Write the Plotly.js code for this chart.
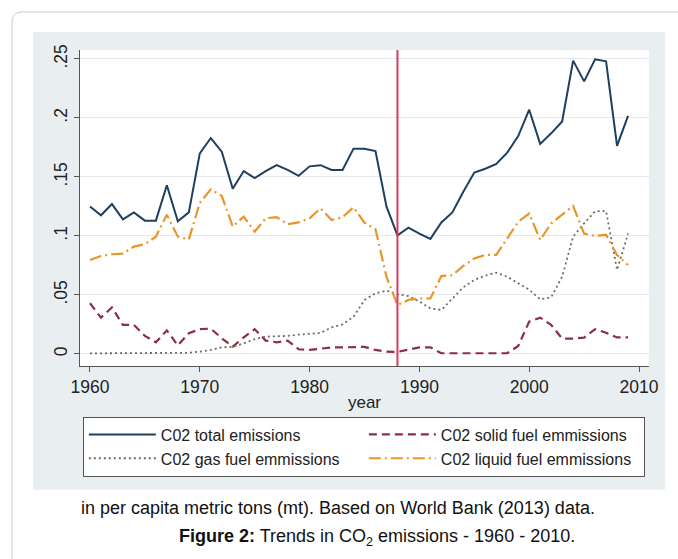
<!DOCTYPE html>
<html>
<head>
<meta charset="utf-8">
<script src="https://cdn.plot.ly/plotly-3.0.1.min.js"></script>
<style>html,body{margin:0;padding:0;background:#fff;}#chart{width:678px;height:559px;}</style>
</head>
<body>
<div id="chart"></div>
<script>
const years = [1960,1961,1962,1963,1964,1965,1966,1967,1968,1969,
  1970,1971,1972,1973,1974,1975,1976,1977,1978,1979,
  1980,1981,1982,1983,1984,1985,1986,1987,1988,1989,
  1990,1991,1992,1993,1994,1995,1996,1997,1998,1999,
  2000,2001,2002,2003,2004,2005,2006,2007,2008,2009];

const totalEmissions = [.125,.1175,.127,.114,.120,.113,.113,.143,.1125,.120,
  .170,.183,.1715,.140,.155,.149,.155,.160,.156,.151,
  .159,.160,.156,.156,.174,.174,.172,.125,.1005,.107,
  .102,.0975,.1115,.120,.1375,.1537,.157,.161,.1706,.1847,
  .207,.178,.187,.197,.2486,.231,.2497,.248,.1763,.2017];

const solidFuel = [.043,.0308,.0395,.0246,.0246,.0153,.0099,.020,.0073,.0175,
  .021,.0215,.0133,.0062,.014,.021,.0113,.0099,.0113,.004,
  .0034,.0042,.0056,.0056,.006,.006,.0034,.002,.0017,.0034,
  .0056,.0056,.0006,.0006,.0006,.0006,.0006,.0006,.0006,.0068,
  .0274,.0308,.0246,.013,.013,.0138,.021,.018,.014,.014];

const gasFuel = [.0005,.0005,.0005,.0005,.0004,.0005,.0005,.0005,.0006,.001,
  .002,.0034,.0056,.006,.009,.0125,.0147,.0147,.0153,.0164,
  .017,.0178,.0226,.025,.0316,.0458,.0514,.0537,.0508,.049,
  .0444,.0387,.0373,.047,.0565,.0627,.0664,.0689,.0655,.0599,
  .0545,.0463,.048,.0655,.0994,.1107,.121,.121,.0712,.102];

const liquidFuel = [.0797,.083,.0845,.085,.091,.093,.0994,.118,.0994,.097,
  .128,.1395,.134,.108,.1164,.1037,.115,.116,.110,.1115,
  .115,.1234,.1136,.1158,.1243,.1113,.1056,.0655,.0415,.0458,
  .047,.047,.066,.0667,.0746,.081,.0839,.0839,.098,.112,
  .119,.0966,.1107,.1178,.1254,.102,.100,.101,.0839,.0754];

const seriesNames = ["C02 total emissions","C02 solid fuel emmissions","C02 gas fuel emmissions","C02 liquid fuel emmissions"];
const yTickVals = [0,.05,.1,.15,.2,.25];
const yTickText = ["0",".05",".1",".15",".2",".25"];
const xTickVals = [1960,1970,1980,1990,2000,2010];
const markerYear = 1988;
const captionLine = "in per capita metric tons (mt). Based on World Bank (2013) data.";
const figureTitle = "<b>Figure 2:</b> Trends in CO<sub>2</sub> emissions - 1960 - 2010.";

const FONT = "Liberation Sans, Arial, Helvetica, sans-serif";

const traces = [
  {x: years, y: totalEmissions, name: seriesNames[0], type: "scatter", mode: "lines",
   line: {color: "#1f3f5e", width: 2}},
  {x: years, y: solidFuel, name: seriesNames[1], type: "scatter", mode: "lines",
   line: {color: "#8b3044", width: 2.2, dash: "8px,5px"}},
  {x: years, y: gasFuel, name: seriesNames[2], type: "scatter", mode: "lines",
   line: {color: "#697060", width: 1.8, dash: "2px,3px"}},
  {x: years, y: liquidFuel, name: seriesNames[3], type: "scatter", mode: "lines",
   line: {color: "#e8962a", width: 2.2, dash: "12px,4px,2px,4px"}}
];

const layout = {
  width: 678, height: 559,
  margin: {l: 80, r: 29, t: 50, b: 193},
  paper_bgcolor: "#ffffff",
  plot_bgcolor: "#ffffff",
  font: {family: FONT, size: 17, color: "#222"},
  showlegend: true,
  xaxis: {
    range: [1959.09, 2010.91],
    tickvals: xTickVals,
    ticks: "outside", ticklen: 5, tickcolor: "#555", tickwidth: 1,
    showline: true, linecolor: "#555", linewidth: 1,
    showgrid: false, zeroline: false,
    tickfont: {size: 17.5, family: FONT, color: "#222"},
    title: {text: "year", font: {size: 17, family: FONT, color: "#222"}, standoff: 0}
  },
  yaxis: {
    range: [-0.0102, 0.2576],
    tickvals: yTickVals, ticktext: yTickText,
    tickangle: -90,
    ticks: "outside", ticklen: 5, tickcolor: "#555", tickwidth: 1,
    showline: true, linecolor: "#555", linewidth: 1,
    showgrid: true, gridcolor: "#e4e9eb", gridwidth: 1,
    zeroline: false,
    tickfont: {size: 17.5, family: FONT, color: "#222"}
  },
  legend: {
    orientation: "h",
    x: 0.005, xanchor: "left",
    y: -0.16, yanchor: "top",
    bgcolor: "#ffffff", bordercolor: "#555", borderwidth: 1,
    font: {size: 16, family: FONT, color: "#222"},
    entrywidth: 198, entrywidthmode: "pixels",
    itemwidth: 67,
    tracegroupgap: 0,
    traceorder: "normal"
  },
  shapes: [
    {type: "rect", xref: "paper", yref: "paper", x0: -0.0826, x1: 1.028, y0: -0.392, y1: 1.057,
     fillcolor: "#e9eff1", line: {width: 0}, layer: "below"},
    {type: "rect", xref: "paper", yref: "paper", x0: 0, x1: 1, y0: 0, y1: 1,
     fillcolor: "#ffffff", line: {width: 0}, layer: "below"},
    {type: "path", xref: "paper", yref: "paper",
     path: "M -0.1195,-0.6456 L -0.1195,1.0886 Q -0.1195,1.1203 -0.1019,1.1203 L 1.2109,1.1203",
     line: {color: "#cccccc", width: 1}, layer: "below"},
    {type: "line", xref: "x", yref: "paper", x0: markerYear, x1: markerYear, y0: 0, y1: 1,
     line: {color: "#db3a5c", width: 2}}
  ],
  annotations: [
    {xref: "paper", yref: "paper", x: 0.4543, y: -0.449, text: captionLine, showarrow: false,
     xanchor: "center", yanchor: "middle", font: {size: 18, family: FONT, color: "#111"}},
    {xref: "paper", yref: "paper", x: 0.5228, y: -0.544, text: figureTitle, showarrow: false,
     xanchor: "center", yanchor: "middle", font: {size: 18, family: FONT, color: "#111"}}
  ]
};

Plotly.newPlot("chart", traces, layout, {displayModeBar: false, staticPlot: true});
</script>
</body>
</html>
